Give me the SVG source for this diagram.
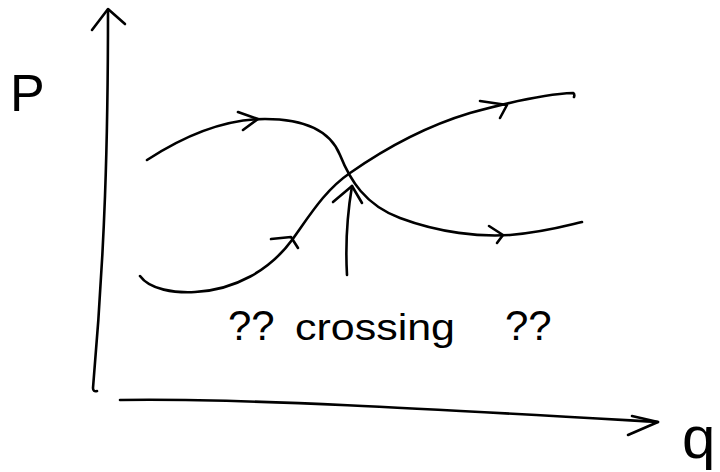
<svg xmlns="http://www.w3.org/2000/svg" width="720" height="472" viewBox="0 0 720 472">
<style>
.ln{fill:none;stroke:#000;stroke-width:2.6;stroke-linecap:round;stroke-linejoin:round}
.tx{font-family:"Liberation Sans",Arial,sans-serif;fill:#000}
</style>
<rect width="720" height="472" fill="#fff"/>
<g id="axes">
<path class="ln" d="M108,10 C108,140 105,250 93,388 Q93,392 97,391"/>
<polyline class="ln" points="92,30 108,9 125,24"/>
<path class="ln" d="M120,400 C250,398 450,410 658,422"/>
<polyline class="ln" points="632,416 658,422 628,435"/>
</g>
<g id="label-p"><text class="tx" x="10" y="111" font-size="52">P</text></g>
<g id="label-q"><text class="tx" x="682" y="458" font-size="60">q</text></g>
<g id="connectors">
<g id="curve-down">
<path class="ln" d="M147,160 C190,132 230,119 265,119 C305,119 330,130 340,155 C350,180 365,205 400,218 C440,233 480,237 510,235 C545,232 565,226 582,222"/>
<polyline class="ln" points="238,112 258,119 243,130"/>
<polyline class="ln" points="489,226 503,235 497,243"/>
</g>
<g id="curve-up">
<path class="ln" d="M140,276 C150,290 175,293 195,292 C235,290 270,270 292,240 C310,215 325,190 350,173 C390,145 430,125 470,113 C510,102 545,94 573,93 Q575,94 574,97"/>
<polyline class="ln" points="271,239 291,237 298,248"/>
<polyline class="ln" points="480,101 507,105 500,118"/>
</g>
<g id="crossing-arrow">
<path class="ln" d="M347,275 C345,240 348,210 352,186"/>
<polyline class="ln" points="333,202 352,186 362,203"/>
</g>
</g>
<g id="label-crossing">
<text class="tx" y="340"><tspan x="228" font-size="42">??</tspan><tspan x="295" font-size="36" textLength="160" lengthAdjust="spacingAndGlyphs">crossing</tspan><tspan x="505" font-size="42">??</tspan></text>
</g>
</svg>
